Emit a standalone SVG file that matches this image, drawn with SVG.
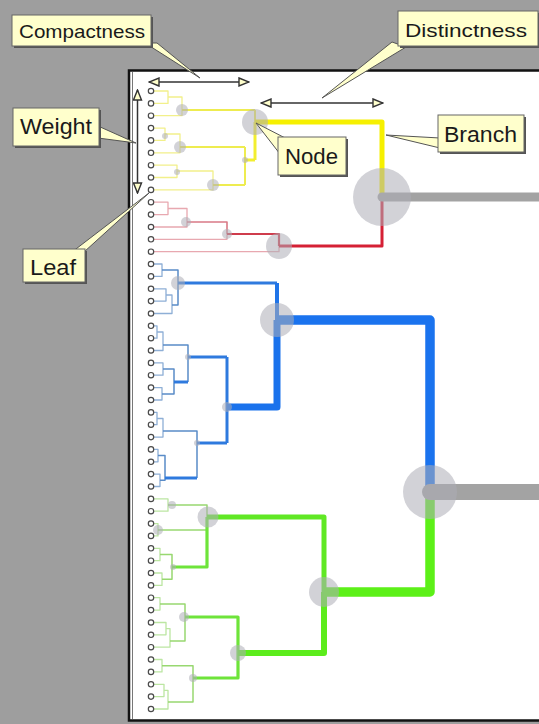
<svg xmlns="http://www.w3.org/2000/svg" width="539" height="724" viewBox="0 0 539 724">
<defs>
<style>
.c{fill:none;stroke-linejoin:round;stroke-linecap:butt}
.yl0{stroke:#f2f08a;stroke-width:1.3}
.yl1{stroke:#eeec50;stroke-width:2}
.yl2{stroke:#f2ee30;stroke-width:3}
.yl3{stroke:#f6f000;stroke-width:5}
.rl0{stroke:#e8a8b0;stroke-width:1.3}
.rl1{stroke:#d97a86;stroke-width:1.6}
.rl2{stroke:#cf3c4c;stroke-width:2.2}
.rl3{stroke:#d52035;stroke-width:3}
.bl0{stroke:#8eafd6;stroke-width:1.3}
.bl1{stroke:#5a8cc8;stroke-width:1.5}
.bl2{stroke:#2f7ade;stroke-width:3}
.bl3{stroke:#1f74e8;stroke-width:4}
.bl4{stroke:#1a72ec;stroke-width:7}
.bl5{stroke:#1a73ee;stroke-width:9.5}
.gl0{stroke:#bce6a2;stroke-width:1.3}
.gl1{stroke:#98d870;stroke-width:1.5}
.gl2{stroke:#6ee43a;stroke-width:3.2}
.gl3{stroke:#60e824;stroke-width:5}
.gl4{stroke:#5cec1c;stroke-width:6}
.gl5{stroke:#5cf018;stroke-width:9.5}
.tr{stroke:#a3a3a3;fill:none}
.nd{fill:#adadb6;opacity:0.55}
.lf{fill:#ffffff;stroke:#4a4a4a;stroke-width:1.2}
.box{fill:#ffffcc;stroke:#666666;stroke-width:1}
.sh{fill:#555555}
.ptr{fill:#ffffcc;stroke:#555555;stroke-width:1;stroke-linejoin:round}
.lbl{font-family:"Liberation Sans",Arial,sans-serif;fill:#1a1a1a}
.dim{fill:none;stroke:#333333;stroke-width:1.5}
</style>
<marker id="ah" viewBox="0 0 12 10" refX="11" refY="5" markerWidth="12" markerHeight="10" markerUnits="userSpaceOnUse" orient="auto-start-reverse">
<path d="M1,1 L11,5 L1,9 Z" fill="#ffffcc" stroke="#333333" stroke-width="1.4"/>
</marker>
</defs>
<rect x="0" y="0" width="539" height="724" fill="#9e9e9e"/>
<g id="panel">
<rect x="129" y="70.5" width="420" height="650" fill="#ffffff" stroke="#111111" stroke-width="2.5"/>
<line x1="132.5" y1="72" x2="132.5" y2="719" stroke="#777777" stroke-width="1"/>
</g>
<g id="connectors" class="c">
<path class="c yl0" d="M154,91 H168 V103.4 H154"/>
<path class="c yl0" d="M168,97 H182 V115.7 H154"/>
<path class="c yl0" d="M154,128.1 H165 V140.4 H154"/>
<path class="c yl0" d="M165,134 H180 V152.8 H154"/>
<path class="c yl0" d="M154,165.2 H177 V177.5 H154"/>
<path class="c yl0" d="M177,171 H213 V189.9 H154"/>
<path class="c yl1" d="M182,110 H255"/>
<path class="c yl1" d="M180,147 H245"/>
<path class="c yl1" d="M213,185 H245"/>
<path class="c yl1" d="M245,147 V185"/>
<path class="c yl2" d="M245,160 H255"/>
<path class="c yl1" d="M255,110 V122"/>
<path class="c yl2" d="M255,122 V160"/>
<path class="c yl3" d="M255,122 H382 V197"/>
<path class="c rl0" d="M154,202.2 H168 V214.6 H154"/>
<path class="c rl0" d="M168,208.5 H187 V227 H154"/>
<path class="c rl1" d="M187,222 H227 V234"/>
<path class="c rl0" d="M227,234 V239.3 H154"/>
<path class="c rl2" d="M227,234 H279 V246"/>
<path class="c rl0" d="M279,246 V251.7 H154"/>
<path class="c rl3" d="M279,246 H382 V197"/>
<path class="c bl0" d="M154,264 H162 V276.4 H154"/>
<path class="c bl0" d="M154,288.8 H166 V301.1 H154"/>
<path class="c bl0" d="M166,295 H172 V313.5 H154"/>
<path class="c bl1" d="M162,270 H178 V305 H172"/>
<path class="c bl2" d="M178,283 H277"/>
<path class="c bl3" d="M277,283 V320"/>
<path class="c bl0" d="M154,325.8 H157 V338.2 H154"/>
<path class="c bl0" d="M157,332 H163 V350.5 H154"/>
<path class="c bl0" d="M154,362.9 H163 V375.2 H154"/>
<path class="c bl0" d="M154,387.6 H162 V400 H154"/>
<path class="c bl1" d="M163,369 H174 V394 H162"/>
<path class="c bl1" d="M163,345 H188 V382"/>
<path class="c bl2" d="M174,382 H188"/>
<path class="c bl2" d="M188,357 H227"/>
<path class="c bl0" d="M154,412.4 H157 V424.7 H154"/>
<path class="c bl0" d="M157,418.5 H163 V437.1 H154"/>
<path class="c bl1" d="M163,431 H197 V478"/>
<path class="c bl0" d="M154,449.4 H158 V461.8 H154"/>
<path class="c bl0" d="M154,474.1 H160 V486.5 H154"/>
<path class="c bl1" d="M158,455.6 H165 V480.3 H160"/>
<path class="c bl2" d="M165,478 H197"/>
<path class="c bl2" d="M197,443 H227"/>
<path class="c bl2" d="M227,357 V443"/>
<path class="c bl4" d="M227,407 H277 V320"/>
<path class="c bl5" d="M277,320 H430 V492"/>
<path class="c gl0" d="M154,498.9 H168 V511.2 H154"/>
<path class="c gl1" d="M168,505 H207 V517"/>
<path class="c gl0" d="M154,523.6 H158 V535.9 H154"/>
<path class="c gl1" d="M158,530 H207"/>
<path class="c gl0" d="M154,548.3 H160 V560.7 H154"/>
<path class="c gl0" d="M154,573 H162 V585.4 H154"/>
<path class="c gl1" d="M160,554.5 H172 V579.2 H162"/>
<path class="c gl2" d="M172,567 H207 V517"/>
<path class="c gl3" d="M207,517 H324 V592"/>
<path class="c gl0" d="M154,597.7 H160 V610.1 H154"/>
<path class="c gl0" d="M154,622.5 H166 V634.8 H154"/>
<path class="c gl0" d="M166,628.6 H170 V647.2 H154"/>
<path class="c gl1" d="M160,604 H185 V641 H170"/>
<path class="c gl0" d="M154,659.5 H162 V671.9 H154"/>
<path class="c gl0" d="M154,684.3 H164 V696.6 H154"/>
<path class="c gl0" d="M164,690.4 H168 V709 H154"/>
<path class="c gl1" d="M162,665.7 H193 V702 H168"/>
<path class="c gl2" d="M185,617 H238 V678 H193"/>
<path class="c gl4" d="M238,653 H324 V592"/>
<path class="c gl5" d="M324,592 H430 V492"/>
<path class="tr" stroke-width="9" stroke-linecap="round" d="M382,197 H560"/>
<path class="tr" stroke-width="16" stroke-linecap="round" d="M430,492 H560"/>
</g>
<g id="nodes">
<g id="node-root1"><circle class="nd" cx="382" cy="197" r="29"/></g>
<g id="node-root2"><circle class="nd" cx="430" cy="492" r="27"/></g>
<g id="node-blue"><circle class="nd" cx="277" cy="320" r="17"/></g>
<g id="node-green"><circle class="nd" cx="324" cy="592" r="15"/></g>
<g id="node-yellow"><circle class="nd" cx="255" cy="122" r="13"/></g>
<g id="node-red"><circle class="nd" cx="279" cy="246" r="13"/></g>
<g id="node-g1"><circle class="nd" cx="208" cy="517" r="10.5"/></g>
<g id="node-g2"><circle class="nd" cx="238" cy="653" r="8"/></g>
<g id="node-y1"><circle class="nd" cx="182" cy="110" r="6"/></g>
<g id="node-y2"><circle class="nd" cx="180" cy="147" r="6"/></g>
<g id="node-y3"><circle class="nd" cx="213" cy="185" r="6"/></g>
<g id="node-b1"><circle class="nd" cx="178" cy="283" r="7"/></g>
<g id="node-b2"><circle class="nd" cx="227" cy="407" r="5"/></g>
<g id="node-r1"><circle class="nd" cx="186" cy="222" r="5"/></g>
<g id="node-r2"><circle class="nd" cx="227" cy="234" r="5"/></g>
<g id="node-g1a"><circle class="nd" cx="158" cy="530" r="5"/></g>
<g id="node-g1b"><circle class="nd" cx="172" cy="505" r="4"/></g>
<g id="node-g2a"><circle class="nd" cx="184" cy="617" r="5"/></g>
<g id="node-g2b"><circle class="nd" cx="193" cy="678" r="4"/></g>
<g id="node-y4"><circle class="nd" cx="165" cy="136" r="3"/></g>
<g id="node-y5"><circle class="nd" cx="177" cy="172" r="3"/></g>
<g id="node-y6"><circle class="nd" cx="245" cy="160" r="3"/></g>
<g id="node-b3"><circle class="nd" cx="188" cy="357" r="3"/></g>
<g id="node-b4"><circle class="nd" cx="197" cy="443" r="3"/></g>
<g id="node-g3"><circle class="nd" cx="173" cy="567" r="3"/></g>
</g>
<g id="leaves">
<g id="leaf0"><circle class="lf" cx="151" cy="91" r="2.7"/></g>
<g id="leaf1"><circle class="lf" cx="151" cy="103.4" r="2.7"/></g>
<g id="leaf2"><circle class="lf" cx="151" cy="115.7" r="2.7"/></g>
<g id="leaf3"><circle class="lf" cx="151" cy="128.1" r="2.7"/></g>
<g id="leaf4"><circle class="lf" cx="151" cy="140.4" r="2.7"/></g>
<g id="leaf5"><circle class="lf" cx="151" cy="152.8" r="2.7"/></g>
<g id="leaf6"><circle class="lf" cx="151" cy="165.2" r="2.7"/></g>
<g id="leaf7"><circle class="lf" cx="151" cy="177.5" r="2.7"/></g>
<g id="leaf8"><circle class="lf" cx="151" cy="189.9" r="2.7"/></g>
<g id="leaf9"><circle class="lf" cx="151" cy="202.2" r="2.7"/></g>
<g id="leaf10"><circle class="lf" cx="151" cy="214.6" r="2.7"/></g>
<g id="leaf11"><circle class="lf" cx="151" cy="227" r="2.7"/></g>
<g id="leaf12"><circle class="lf" cx="151" cy="239.3" r="2.7"/></g>
<g id="leaf13"><circle class="lf" cx="151" cy="251.7" r="2.7"/></g>
<g id="leaf14"><circle class="lf" cx="151" cy="264" r="2.7"/></g>
<g id="leaf15"><circle class="lf" cx="151" cy="276.4" r="2.7"/></g>
<g id="leaf16"><circle class="lf" cx="151" cy="288.8" r="2.7"/></g>
<g id="leaf17"><circle class="lf" cx="151" cy="301.1" r="2.7"/></g>
<g id="leaf18"><circle class="lf" cx="151" cy="313.5" r="2.7"/></g>
<g id="leaf19"><circle class="lf" cx="151" cy="325.8" r="2.7"/></g>
<g id="leaf20"><circle class="lf" cx="151" cy="338.2" r="2.7"/></g>
<g id="leaf21"><circle class="lf" cx="151" cy="350.5" r="2.7"/></g>
<g id="leaf22"><circle class="lf" cx="151" cy="362.9" r="2.7"/></g>
<g id="leaf23"><circle class="lf" cx="151" cy="375.2" r="2.7"/></g>
<g id="leaf24"><circle class="lf" cx="151" cy="387.6" r="2.7"/></g>
<g id="leaf25"><circle class="lf" cx="151" cy="400" r="2.7"/></g>
<g id="leaf26"><circle class="lf" cx="151" cy="412.4" r="2.7"/></g>
<g id="leaf27"><circle class="lf" cx="151" cy="424.7" r="2.7"/></g>
<g id="leaf28"><circle class="lf" cx="151" cy="437.1" r="2.7"/></g>
<g id="leaf29"><circle class="lf" cx="151" cy="449.4" r="2.7"/></g>
<g id="leaf30"><circle class="lf" cx="151" cy="461.8" r="2.7"/></g>
<g id="leaf31"><circle class="lf" cx="151" cy="474.1" r="2.7"/></g>
<g id="leaf32"><circle class="lf" cx="151" cy="486.5" r="2.7"/></g>
<g id="leaf33"><circle class="lf" cx="151" cy="498.9" r="2.7"/></g>
<g id="leaf34"><circle class="lf" cx="151" cy="511.2" r="2.7"/></g>
<g id="leaf35"><circle class="lf" cx="151" cy="523.6" r="2.7"/></g>
<g id="leaf36"><circle class="lf" cx="151" cy="535.9" r="2.7"/></g>
<g id="leaf37"><circle class="lf" cx="151" cy="548.3" r="2.7"/></g>
<g id="leaf38"><circle class="lf" cx="151" cy="560.7" r="2.7"/></g>
<g id="leaf39"><circle class="lf" cx="151" cy="573" r="2.7"/></g>
<g id="leaf40"><circle class="lf" cx="151" cy="585.4" r="2.7"/></g>
<g id="leaf41"><circle class="lf" cx="151" cy="597.7" r="2.7"/></g>
<g id="leaf42"><circle class="lf" cx="151" cy="610.1" r="2.7"/></g>
<g id="leaf43"><circle class="lf" cx="151" cy="622.5" r="2.7"/></g>
<g id="leaf44"><circle class="lf" cx="151" cy="634.8" r="2.7"/></g>
<g id="leaf45"><circle class="lf" cx="151" cy="647.2" r="2.7"/></g>
<g id="leaf46"><circle class="lf" cx="151" cy="659.5" r="2.7"/></g>
<g id="leaf47"><circle class="lf" cx="151" cy="671.9" r="2.7"/></g>
<g id="leaf48"><circle class="lf" cx="151" cy="684.3" r="2.7"/></g>
<g id="leaf49"><circle class="lf" cx="151" cy="696.6" r="2.7"/></g>
<g id="leaf50"><circle class="lf" cx="151" cy="709" r="2.7"/></g>
</g>
<g id="dimension-arrows">
<path class="dim" d="M149,82 H249" marker-start="url(#ah)" marker-end="url(#ah)"/>
<path class="dim" d="M137.5,90 V193" marker-start="url(#ah)" marker-end="url(#ah)"/>
<path class="dim" d="M261,103 H383" marker-start="url(#ah)" marker-end="url(#ah)"/>
</g>
<g id="label-compactness">
<polygon class="ptr" points="145,43 157,43 200,78"/>
<rect class="sh" x="14" y="17" width="139" height="31"/>
<rect class="box" x="12" y="15" width="139" height="31"/>
<text class="lbl" x="19" y="38" font-size="19" textLength="126" lengthAdjust="spacingAndGlyphs">Compactness</text>
</g>
<g id="label-distinctness">
<polygon class="ptr" points="392,42 406,47 322,98"/>
<rect class="sh" x="400" y="13" width="140" height="35"/>
<rect class="box" x="398" y="11" width="140" height="35"/>
<text class="lbl" x="405" y="37" font-size="19" textLength="122" lengthAdjust="spacingAndGlyphs">Distinctness</text>
</g>
<g id="label-weight">
<polygon class="ptr" points="98,126 98,138 136,143"/>
<rect class="sh" x="15" y="110" width="86" height="38"/>
<rect class="box" x="13" y="108" width="86" height="38"/>
<text class="lbl" x="20" y="134" font-size="22" textLength="72" lengthAdjust="spacingAndGlyphs">Weight</text>
</g>
<g id="label-leaf">
<polygon class="ptr" points="72,252 84,252 149,193"/>
<rect class="sh" x="25" y="251" width="62" height="33"/>
<rect class="box" x="23" y="249" width="62" height="33"/>
<text class="lbl" x="30" y="275" font-size="22" textLength="46" lengthAdjust="spacingAndGlyphs">Leaf</text>
</g>
<g id="label-node">
<polygon class="ptr" points="280,154 291,141 256,123"/>
<rect class="sh" x="280" y="139" width="68" height="38"/>
<rect class="box" x="278" y="137" width="68" height="38"/>
<text class="lbl" x="285" y="164" font-size="22" textLength="53" lengthAdjust="spacingAndGlyphs">Node</text>
</g>
<g id="label-branch">
<polygon class="ptr" points="440,138 440,148 386,135"/>
<rect class="sh" x="440" y="117" width="86" height="37"/>
<rect class="box" x="438" y="115" width="86" height="37"/>
<text class="lbl" x="444" y="142" font-size="22" textLength="73" lengthAdjust="spacingAndGlyphs">Branch</text>
</g>
</svg>
